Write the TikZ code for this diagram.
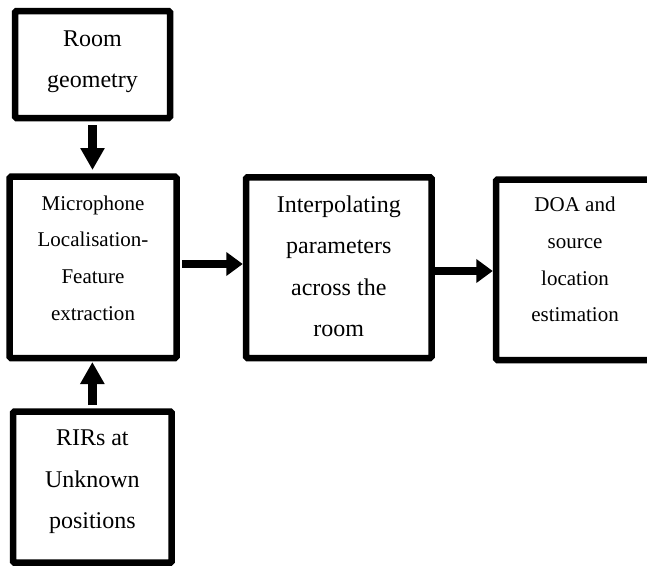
\documentclass[tikz,border=0pt]{standalone}
\usepackage{fontspec}
\setmainfont{Liberation Serif}
\usetikzlibrary{arrows.meta}
\begin{document}
\begin{tikzpicture}[x=1pt,y=-1pt,
  blk/.style={draw, line width=6.5pt, rounded corners=1.5pt, inner sep=0pt},
  bigtxt/.style={align=center, inner sep=0pt, font=\fontsize{24}{41.5}\selectfont},
  smalltxt/.style={align=center, inner sep=0pt, font=\fontsize{21}{36.7}\selectfont},
  varr/.style={line width=9pt, -{Triangle[length=22pt,width=23pt]}},
  harr/.style={line width=8.5pt, -{Triangle[length=16.5pt,width=23pt]}}]
\useasboundingbox (0,0) rectangle (647,566);
\clip (0,0) rectangle (647,566);
% boxes
\node[blk, minimum width=155pt, minimum height=107pt] (room) at (92.5,64.5) {};
\node[blk, minimum width=167pt, minimum height=181.3pt] (mic) at (93,267.35) {};
\node[blk, minimum width=185.5pt, minimum height=180.7pt] (interp) at (338.75,267.65) {};
\node[blk, minimum width=158pt, minimum height=180.5pt] (doa) at (575,269.75) {};
\node[blk, minimum width=158.7pt, minimum height=151.2pt] (rir) at (92.35,487.1) {};
% texts
\node[bigtxt] (roomtxt) at ([yshift=2.6pt]room.center) {Room\\geometry};
\node[smalltxt] (mictxt) at ([yshift=9.45pt]mic.center) {Microphone\\Localisation-\\Feature\\extraction};
\node[bigtxt] (interptxt) at ([yshift=1.35pt]interp.center) {Interpolating\\parameters\\across the\\room};
\node[smalltxt] (doatxt) at ([yshift=10.25pt]doa.center) {DOA and\\source\\location\\estimation};
\node[bigtxt] (rirtxt) at ([yshift=5.1pt]rir.center) {RIRs at\\Unknown\\positions};
% arrows
\draw[varr, shorten <=3.75pt, shorten >=3.45pt] (room.south) -- (room.south |- mic.north);
\draw[varr, shorten <=3.25pt, shorten >=0.75pt] (rir.north) -- (rir.north |- mic.south);
\draw[harr, shorten <=2.25pt] ([yshift=3.35pt]mic.east) -- ([yshift=3.35pt]mic.east -| interp.west);
\draw[harr] ([yshift=-3.35pt]interp.east) -- ([yshift=-3.35pt]interp.east -| doa.west);
\end{tikzpicture}
\end{document}
